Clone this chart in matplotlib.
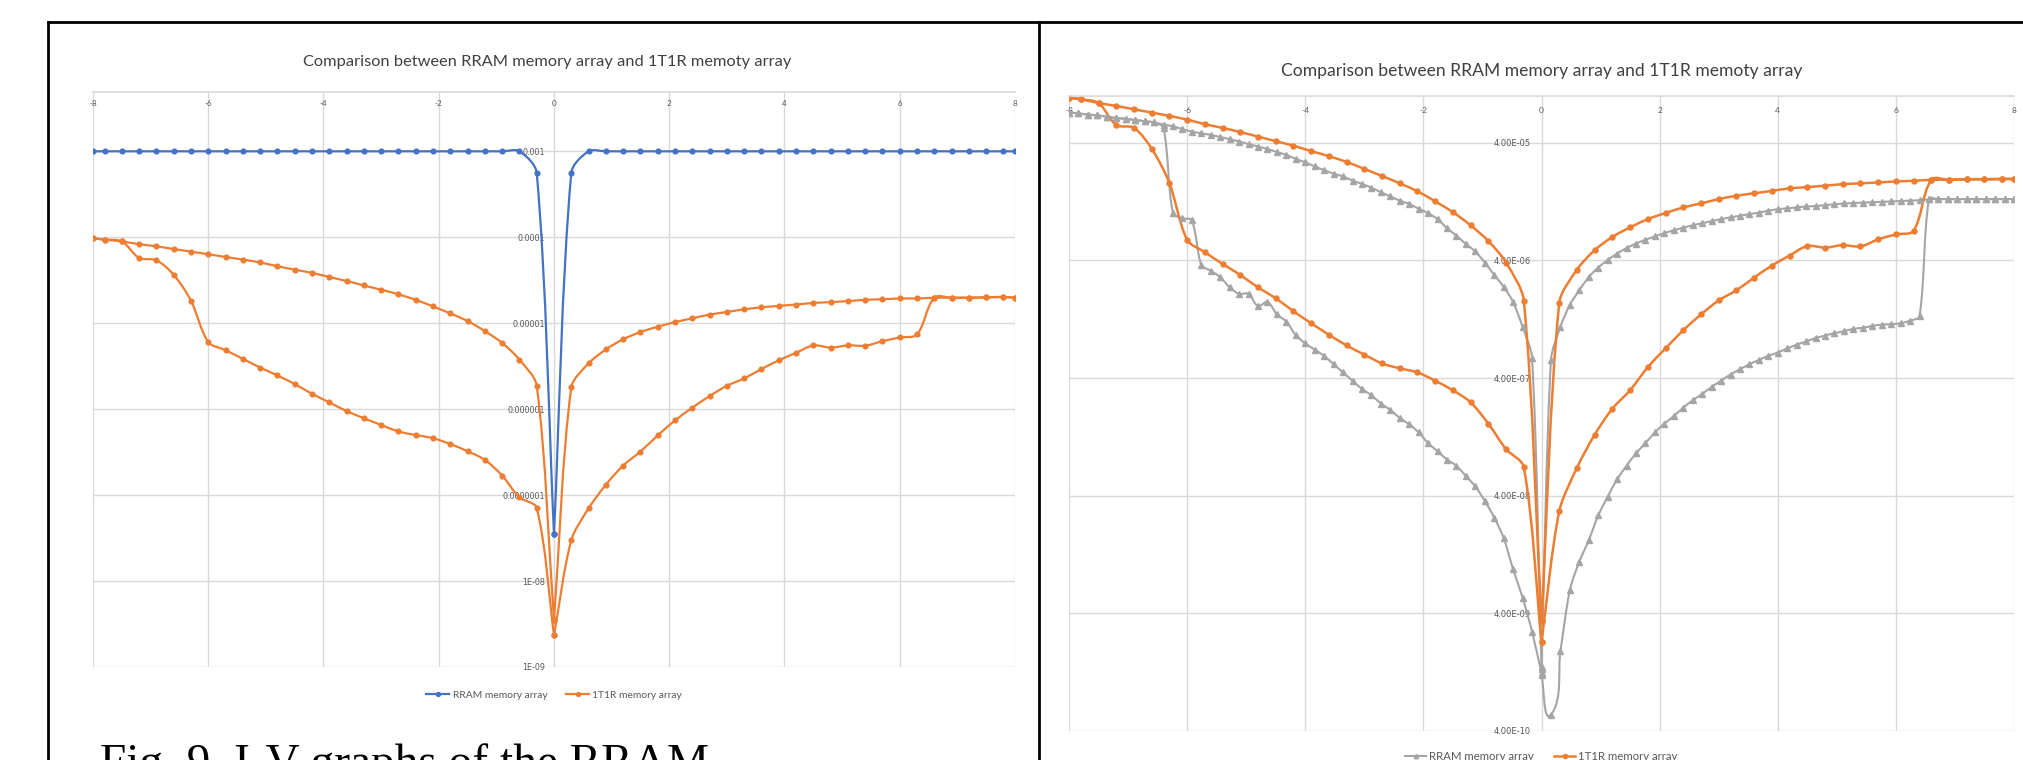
import numpy as np
import matplotlib.pyplot as plt
from matplotlib.lines import Line2D
from matplotlib.path import Path
from matplotlib.patches import PathPatch
from matplotlib.ticker import NullLocator

TITLE = "Comparison between RRAM memory array and 1T1R memoty array"
CAPTION = "Fig. 9. I-V graphs of the RRAM"
SERIES = ["RRAM memory array", "1T1R memory array"]

# coarse voltage sweep (circle markers)
v_neg = [-8, -7.8, -7.5, -7.2, -6.9, -6.6, -6.3, -6.0, -5.7, -5.4, -5.1, -4.8, -4.5, -4.2,
         -3.9, -3.6, -3.3, -3.0, -2.7, -2.4, -2.1, -1.8, -1.5, -1.2, -0.9, -0.6, -0.3, 0]
v_pos = [0, 0.3, 0.6, 0.9, 1.2, 1.5, 1.8, 2.1, 2.4, 2.7, 3.0, 3.3, 3.6, 3.9,
         4.2, 4.5, 4.8, 5.1, 5.4, 5.7, 6.0, 6.3, 6.6, 6.9, 7.2, 7.5, 7.8, 8]

# fine voltage sweep of the right RRAM curve (triangle markers)
v_neg_fine = [-8, -7.84, -7.68, -7.52, -7.36, -7.2, -7.04, -6.88, -6.72, -6.56,
              -6.4, -6.24, -6.08, -5.92, -5.76, -5.6, -5.44, -5.28, -5.12, -4.96,
              -4.8, -4.64, -4.48, -4.32, -4.16, -4.0, -3.84, -3.68, -3.52, -3.36,
              -3.2, -3.04, -2.88, -2.72, -2.56, -2.4, -2.24, -2.08, -1.92, -1.76,
              -1.6, -1.44, -1.28, -1.12, -0.96, -0.8, -0.64, -0.48, -0.32, -0.16, 0]
v_pos_fine = [0, 0.16, 0.32, 0.48, 0.64, 0.8, 0.96, 1.12, 1.28, 1.44,
              1.6, 1.76, 1.92, 2.08, 2.24, 2.4, 2.56, 2.72, 2.88, 3.04,
              3.2, 3.36, 3.52, 3.68, 3.84, 4.0, 4.16, 4.32, 4.48, 4.64,
              4.8, 4.96, 5.12, 5.28, 5.44, 5.6, 5.76, 5.92, 6.08, 6.24,
              6.4, 6.56, 6.72, 6.88, 7.04, 7.2, 7.36, 7.52, 7.68, 7.84, 8.0]

# ---- left chart: current (A)
rram_l_neg = [1e-3, 1e-3, 1e-3, 1e-3, 1e-3, 1e-3, 1e-3, 1e-3, 1e-3, 1e-3, 1e-3, 1e-3, 1e-3, 1e-3,
              1e-3, 1e-3, 1e-3, 1e-3, 1e-3, 1e-3, 1e-3, 1e-3, 1e-3, 1e-3, 1e-3, 1e-3, 5.6e-4, 3.5e-8]
rram_l_pos = [3.5e-8, 5.6e-4, 1e-3, 1e-3, 1e-3, 1e-3, 1e-3, 1e-3, 1e-3, 1e-3, 1e-3, 1e-3, 1e-3, 1e-3,
              1e-3, 1e-3, 1e-3, 1e-3, 1e-3, 1e-3, 1e-3, 1e-3, 1e-3, 1e-3, 1e-3, 1e-3, 1e-3, 1e-3]

t1r_l_neg_hi = [9.7e-5, 9.4e-5, 8.95e-5, 8.3e-5, 7.85e-5, 7.3e-5, 6.8e-5, 6.35e-5, 5.9e-5, 5.5e-5,
                5.1e-5, 4.6e-5, 4.2e-5, 3.85e-5, 3.45e-5, 3.1e-5, 2.75e-5, 2.45e-5, 2.17e-5, 1.87e-5,
                1.57e-5, 1.3e-5, 1.06e-5, 8.1e-6, 5.9e-6, 3.77e-6, 1.88e-6, 3.5e-9]
t1r_l_neg_lo = [9.7e-5, 9.4e-5, 8.95e-5, 5.75e-5, 5.4e-5, 3.66e-5, 1.83e-5, 6.05e-6, 4.85e-6, 3.85e-6,
                3.05e-6, 2.47e-6, 1.96e-6, 1.51e-6, 1.2e-6, 9.5e-7, 7.85e-7, 6.55e-7, 5.5e-7, 5.0e-7,
                4.6e-7, 3.93e-7, 3.24e-7, 2.57e-7, 1.69e-7, 9.4e-8, 7.1e-8, 2.35e-9]
t1r_l_pos_hi = [3.5e-9, 1.79e-6, 3.41e-6, 4.95e-6, 6.5e-6, 7.9e-6, 9.1e-6, 1.03e-5, 1.14e-5, 1.26e-5,
                1.35e-5, 1.45e-5, 1.53e-5, 1.59e-5, 1.65e-5, 1.72e-5, 1.76e-5, 1.81e-5, 1.87e-5, 1.9e-5,
                1.94e-5, 1.94e-5, 1.98e-5, 1.98e-5, 1.98e-5, 2.0e-5, 2.02e-5, 1.98e-5]
t1r_l_pos_lo = [2.35e-9, 2.99e-8, 7.0e-8, 1.32e-7, 2.21e-7, 3.21e-7, 4.95e-7, 7.4e-7, 1.04e-6, 1.42e-6,
                1.87e-6, 2.28e-6, 2.93e-6, 3.7e-6, 4.52e-6, 5.52e-6, 5.2e-6, 5.52e-6, 5.47e-6, 6.17e-6,
                6.82e-6, 7.4e-6, 1.98e-5, 1.98e-5, 1.98e-5, 2.0e-5, 2.02e-5, 1.98e-5]

# ---- right chart: current (A)
rram_r_neg_hi = [7.23e-5, 7.11e-5, 6.95e-5, 6.84e-5, 6.67e-5, 6.5e-5, 6.4e-5, 6.25e-5, 6.1e-5, 5.96e-5,
                 5.72e-5, 5.53e-5, 5.23e-5, 4.98e-5, 4.82e-5, 4.67e-5, 4.48e-5, 4.3e-5, 4.1e-5, 3.9e-5,
                 3.72e-5, 3.54e-5, 3.34e-5, 3.16e-5, 2.92e-5, 2.73e-5, 2.52e-5, 2.34e-5, 2.19e-5, 2.07e-5,
                 1.91e-5, 1.79e-5, 1.66e-5, 1.52e-5, 1.4e-5, 1.29e-5, 1.21e-5, 1.1e-5, 1.01e-5, 8.99e-6,
                 7.52e-6, 6.5e-6, 5.52e-6, 4.77e-6, 3.84e-6, 3.01e-6, 2.39e-6, 1.77e-6, 1.09e-6, 5.93e-7,
                 1.41e-9]
rram_r_neg_lo = [7.23e-5, 7.11e-5, 6.95e-5, 6.84e-5, 6.67e-5, 6.5e-5, 6.4e-5, 6.25e-5, 6.1e-5, 5.96e-5,
                 5.36e-5, 1.01e-5, 9.13e-6, 8.77e-6, 3.68e-6, 3.26e-6, 2.89e-6, 2.36e-6, 2.08e-6, 2.08e-6,
                 1.64e-6, 1.77e-6, 1.39e-6, 1.21e-6, 9.26e-7, 7.88e-7, 6.98e-7, 6.18e-7, 5.25e-7, 4.47e-7,
                 3.8e-7, 3.23e-7, 2.86e-7, 2.43e-7, 2.15e-7, 1.83e-7, 1.62e-7, 1.38e-7, 1.12e-7, 9.55e-8,
                 8.12e-8, 7.19e-8, 5.87e-8, 4.8e-8, 3.61e-8, 2.61e-8, 1.74e-8, 9.46e-9, 5.45e-9, 2.8e-9,
                 1.24e-9]
rram_r_pos_hi = [1.35e-9, 5.7e-7, 1.09e-6, 1.68e-6, 2.23e-6, 2.89e-6, 3.48e-6, 4.03e-6, 4.58e-6, 5.09e-6,
                 5.57e-6, 6.0e-6, 6.4e-6, 6.83e-6, 7.22e-6, 7.59e-6, 7.97e-6, 8.29e-6, 8.63e-6, 8.99e-6,
                 9.29e-6, 9.6e-6, 9.91e-6, 1.02e-5, 1.06e-5, 1.09e-5, 1.11e-5, 1.13e-5, 1.15e-5, 1.16e-5,
                 1.18e-5, 1.2e-5, 1.22e-5, 1.23e-5, 1.24e-5, 1.25e-5, 1.26e-5, 1.27e-5, 1.28e-5, 1.29e-5,
                 1.3e-5, 1.32e-5, 1.33e-5, 1.33e-5, 1.33e-5, 1.33e-5, 1.33e-5, 1.33e-5, 1.33e-5, 1.33e-5,
                 1.33e-5]
rram_r_pos_lo = [1.2e-9, 5.5e-10, 1.9e-9, 6.3e-9, 1.1e-8, 1.67e-8, 2.72e-8, 3.92e-8, 5.51e-8, 7.19e-8,
                 9.18e-8, 1.12e-7, 1.38e-7, 1.64e-7, 1.9e-7, 2.24e-7, 2.59e-7, 2.93e-7, 3.36e-7, 3.8e-7,
                 4.29e-7, 4.76e-7, 5.25e-7, 5.7e-7, 6.18e-7, 6.59e-7, 7.15e-7, 7.69e-7, 8.2e-7, 8.75e-7,
                 9.19e-7, 9.65e-7, 1.0e-6, 1.05e-6, 1.07e-6, 1.11e-6, 1.14e-6, 1.15e-6, 1.17e-6, 1.23e-6,
                 1.34e-6, 1.33e-5, 1.33e-5, 1.33e-5, 1.33e-5, 1.33e-5, 1.33e-5, 1.33e-5, 1.33e-5, 1.33e-5,
                 1.33e-5]

t1r_r_neg_hi = [9.68e-5, 9.37e-5, 8.71e-5, 8.23e-5, 7.71e-5, 7.23e-5, 6.77e-5, 6.3e-5, 5.76e-5, 5.36e-5,
                4.94e-5, 4.52e-5, 4.13e-5, 3.78e-5, 3.4e-5, 3.08e-5, 2.75e-5, 2.4e-5, 2.09e-5, 1.81e-5,
                1.55e-5, 1.27e-5, 1.03e-5, 7.96e-6, 5.85e-6, 3.84e-6, 1.82e-6, 3.44e-9]
t1r_r_neg_lo = [9.68e-5, 9.37e-5, 8.71e-5, 5.67e-5, 5.36e-5, 3.57e-5, 1.82e-5, 6.0e-6, 4.7e-6, 3.74e-6,
                3.01e-6, 2.36e-6, 1.91e-6, 1.48e-6, 1.17e-6, 9.35e-7, 7.57e-7, 6.33e-7, 5.33e-7, 4.84e-7,
                4.47e-7, 3.8e-7, 3.15e-7, 2.49e-7, 1.64e-7, 9.95e-8, 7.02e-8, 2.29e-9]
t1r_r_pos_hi = [3.44e-9, 1.74e-6, 3.34e-6, 4.89e-6, 6.34e-6, 7.64e-6, 8.99e-6, 1.01e-5, 1.13e-5, 1.22e-5,
                1.33e-5, 1.42e-5, 1.49e-5, 1.56e-5, 1.64e-5, 1.68e-5, 1.73e-5, 1.78e-5, 1.81e-5, 1.84e-5,
                1.88e-5, 1.9e-5, 1.94e-5, 1.94e-5, 1.96e-5, 1.96e-5, 1.97e-5, 1.97e-5]
t1r_r_pos_lo = [2.29e-9, 2.94e-8, 6.91e-8, 1.32e-7, 2.2e-7, 3.15e-7, 4.96e-7, 7.15e-7, 1.02e-6, 1.39e-6,
                1.83e-6, 2.23e-6, 2.86e-6, 3.62e-6, 4.4e-6, 5.31e-6, 5.14e-6, 5.4e-6, 5.26e-6, 6.04e-6,
                6.65e-6, 7.16e-6, 1.94e-5, 1.94e-5, 1.96e-5, 1.96e-5, 1.97e-5, 1.97e-5]

x_ticks = [-8, -6, -4, -2, 0, 2, 4, 6, 8]
y_ticks_l = [1e-9, 1e-8, 1e-7, 1e-6, 1e-5, 1e-4, 1e-3]
y_labels_l = ["1E-09", "1E-08", "0.0000001", "0.000001", "0.00001", "0.0001", "0.001"]
y_ticks_r = [4e-10, 4e-9, 4e-8, 4e-7, 4e-6, 4e-5]
y_labels_r = ["4.00E-10", "4.00E-09", "4.00E-08", "4.00E-07", "4.00E-06", "4.00E-05"]

BLUE = "#4472C4"
ORANGE = "#ED7D31"
GRAY = "#A5A5A5"
GRID = "#D9D9D9"
TXT = "#595959"
FONT = "Lato"

W, H = 2024, 760
fig = plt.figure(figsize=(W / 100, H / 100), dpi=100)
fig.patch.set_facecolor("white")


def px_box(x0, x1, y0, y1):
    # pixel box (from top-left) -> figure fraction rect
    return [x0 / W, 1 - y1 / H, (x1 - x0) / W, (y1 - y0) / H]


def style_axes(ax, ylim, yticks, ylabels, xpad, ypad, fs):
    ax.set_yscale("log")
    ax.set_xlim(-8, 8)
    ax.set_ylim(*ylim)
    ax.set_xticks(x_ticks, labels=[str(t) for t in x_ticks])
    ax.set_yticks(yticks, labels=ylabels)
    ax.yaxis.set_minor_locator(NullLocator())
    ax.xaxis.tick_top()
    ax.tick_params(axis="x", length=0, pad=xpad, labelsize=fs, labelcolor=TXT)
    ax.tick_params(axis="y", length=0, pad=ypad, labelsize=fs, labelcolor=TXT)
    for lab in ax.get_xticklabels() + ax.get_yticklabels():
        lab.set_fontfamily(FONT)
    ax.spines["left"].set_position(("data", 0))
    ax.spines["left"].set_visible(False)
    ax.spines["right"].set_visible(False)
    ax.spines["bottom"].set_visible(False)
    ax.spines["top"].set_color(GRID)
    ax.spines["top"].set_linewidth(1.2)
    ax.grid(True, color=GRID, lw=1.0)
    ax.set_axisbelow(True)
    ax.set_facecolor("none")


def smooth_series(ax, xs, ys, color, lw, marker, ms, k=0.3):
    # Excel-like smoothed line: Bezier built on screen positions, tangent
    # along the neighbours, handle length scaled by the segment length
    pts = ax.transData.transform(np.column_stack([xs, ys]))
    n = len(pts)
    tang = []
    for i in range(n):
        d = pts[min(i + 1, n - 1)] - pts[max(i - 1, 0)]
        length = np.hypot(d[0], d[1])
        tang.append(d / length if length > 0 else np.zeros(2))
    verts = [pts[0]]
    codes = [Path.MOVETO]
    for i in range(n - 1):
        seg = np.hypot(*(pts[i + 1] - pts[i]))
        verts += [pts[i] + tang[i] * seg * k, pts[i + 1] - tang[i + 1] * seg * k, pts[i + 1]]
        codes += [Path.CURVE4] * 3
    verts = ax.transData.inverted().transform(np.array(verts))
    ax.add_patch(PathPatch(Path(verts, codes), facecolor="none", edgecolor=color,
                           lw=lw, capstyle="round", joinstyle="round"))
    ax.plot(xs, ys, ls="none", marker=marker, ms=ms, color=color)


def legend_handle(color, lw, marker, ms):
    return Line2D([0], [0], color=color, lw=lw, marker=marker, ms=ms)


# ---- left chart
ax1 = fig.add_axes(px_box(93, 1015, 92, 667))
style_axes(ax1, (1e-9, 4.9e-3), y_ticks_l, y_labels_l, -11, 6.5, 5.8)
for xs, ys in [(v_neg, rram_l_neg), (v_pos, rram_l_pos)]:
    smooth_series(ax1, xs, ys, BLUE, 1.6, "o", 3.4)
for xs, ys in [(v_neg, t1r_l_neg_hi), (v_neg, t1r_l_neg_lo),
               (v_pos, t1r_l_pos_hi), (v_pos, t1r_l_pos_lo)]:
    smooth_series(ax1, xs, ys, ORANGE, 1.6, "o", 3.4)
leg1 = ax1.legend([legend_handle(BLUE, 1.6, "o", 2.8), legend_handle(ORANGE, 1.6, "o", 2.8)],
                  SERIES, loc="center", bbox_to_anchor=(0.5, -0.049), ncol=2, frameon=False,
                  prop={"family": FONT, "size": 7.4}, handlelength=2.3, handletextpad=0.3,
                  columnspacing=1.8)
for t in leg1.get_texts():
    t.set_color(TXT)

# ---- right chart
ax2 = fig.add_axes(px_box(1069, 2014, 96, 731))
style_axes(ax2, (4e-10, 1e-4), y_ticks_r, y_labels_r, -13, 8, 6.0)
for xs, ys in [(v_neg_fine, rram_r_neg_hi), (v_neg_fine, rram_r_neg_lo),
               (v_pos_fine, rram_r_pos_hi), (v_pos_fine, rram_r_pos_lo)]:
    smooth_series(ax2, xs, ys, GRAY, 1.5, "^", 3.8)
for xs, ys in [(v_neg, t1r_r_neg_hi), (v_neg, t1r_r_neg_lo),
               (v_pos, t1r_r_pos_hi), (v_pos, t1r_r_pos_lo)]:
    smooth_series(ax2, xs, ys, ORANGE, 1.8, "o", 3.6)
leg2 = ax2.legend([legend_handle(GRAY, 1.5, "^", 3.2), legend_handle(ORANGE, 1.8, "o", 3.0)],
                  SERIES, loc="center", bbox_to_anchor=(0.5, -0.04), ncol=2, frameon=False,
                  prop={"family": FONT, "size": 8.2}, handlelength=1.8, handletextpad=0.3,
                  columnspacing=1.8)
for t in leg2.get_texts():
    t.set_color(TXT)

# chart titles
fig.text(547 / W, 1 - 62 / H, TITLE, ha="center", va="center", fontsize=11.8,
         family=FONT, color="#404040")
fig.text(1542 / W, 1 - 71 / H, TITLE, ha="center", va="center", fontsize=12.6,
         family=FONT, color="#404040")

# caption (cut off by the bottom of the page, as in the source)
fig.text(100 / W, 1 - 776 / H, CAPTION, ha="left", va="baseline", fontsize=34,
         family="Liberation Serif", color="black")

# table borders of the page
for xs, ys in [((48, W), (22, 22)), ((48, 48), (22, H)), ((1039, 1039), (22, H))]:
    fig.add_artist(Line2D([x / W for x in xs], [1 - y / H for y in ys],
                          color="black", lw=2.0, transform=fig.transFigure))

fig.savefig("out.png", dpi=100)
